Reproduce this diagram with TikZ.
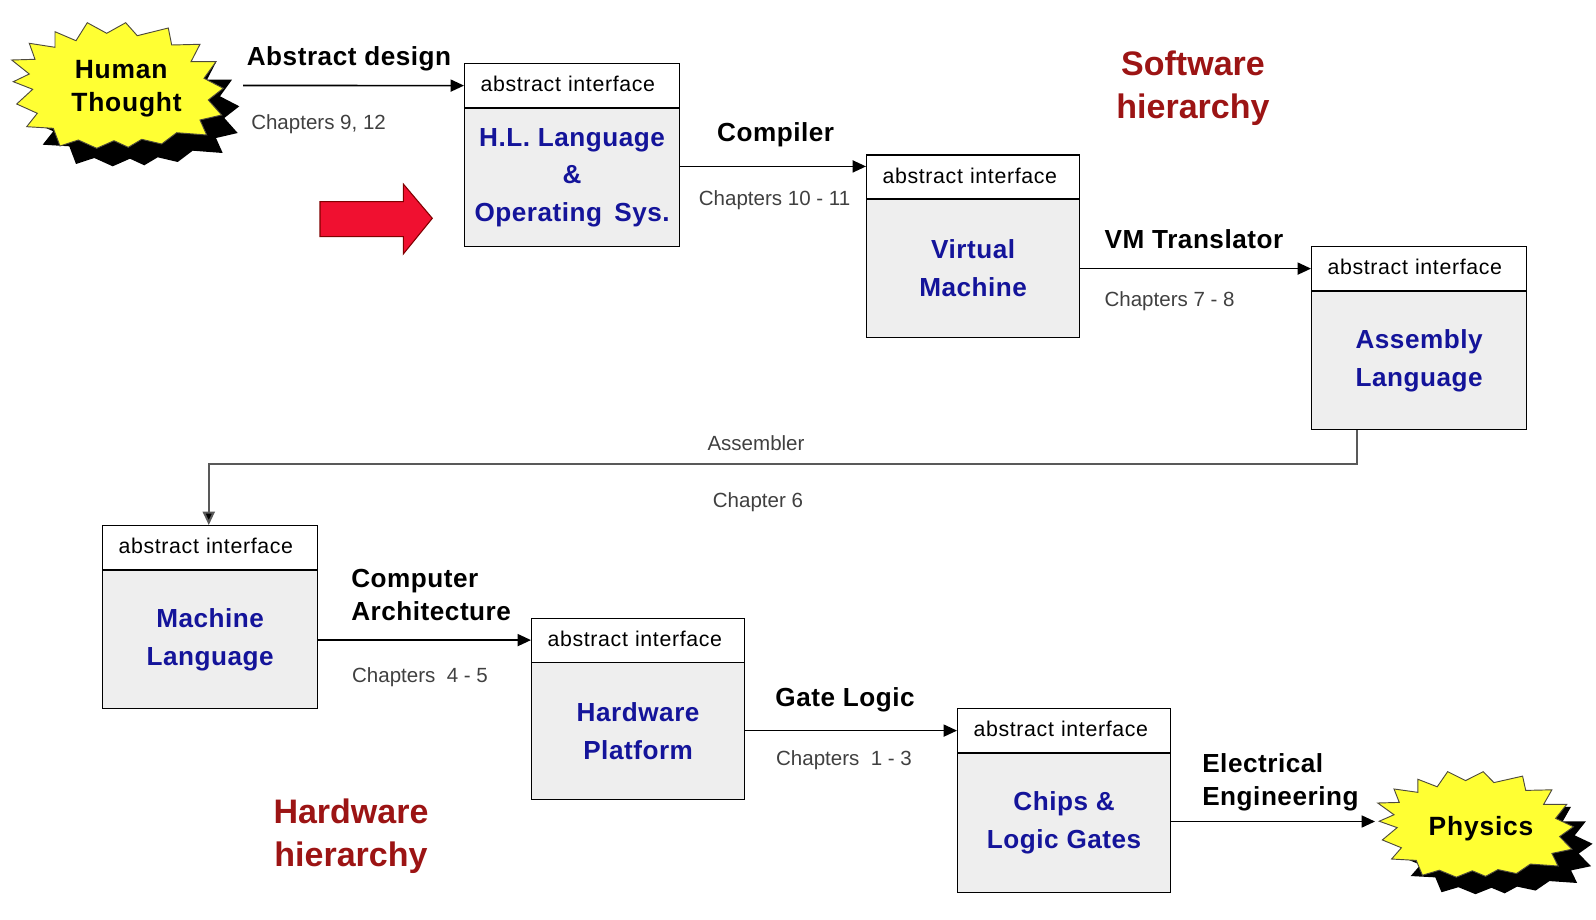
\documentclass[tikz,border=0pt]{standalone}
\usepackage{fontspec}
\setmainfont{Liberation Sans}
\usetikzlibrary{arrows.meta}
\definecolor{bodyfill}{HTML}{EEEEEE}
\definecolor{bluetxt}{HTML}{14149A}
\definecolor{redtxt}{HTML}{9C1414}
\definecolor{starfill}{HTML}{FFFF33}
\definecolor{redarrow}{HTML}{F01030}
\newcommand{\starpath}{(87.3,22.7) -- (106.7,33.3) -- (125.7,22.7) -- (137.3,35.7) -- (168.3,28) -- (171.7,45) -- (200,44.3) -- (191,61.7) -- (216,61.7) -- (204,78.3) -- (223.3,88.3) -- (208.3,100) -- (221.7,115) -- (200,120) -- (206.7,135) -- (176.7,132.7) -- (161.7,144) -- (141.7,139.3) -- (128.3,147.3) -- (114,140.7) -- (96.7,148.3) -- (78.3,140) -- (60,146) -- (53.3,128.3) -- (26.7,126.7) -- (37.3,113.3) -- (16.7,104) -- (32.7,89.3) -- (13.3,81.7) -- (29.3,74) -- (11.7,60) -- (35,59.3) -- (29.3,43.3) -- (55,47.3) -- (55,31.7) -- (76,40.7) -- cycle}
\tikzset{
  x=0.75pt,y=-0.75pt,
  every node/.style={font=\fontsize{16.5}{20}\selectfont,inner sep=0pt},
  head/.style={draw=black,line width=0.9pt,fill=white,anchor=north west,minimum width=#1*0.75pt,minimum height=33pt,
    text width=(#1-32)*0.75pt,align=left,text height=11.7pt,text depth=2.2pt,font=\fontsize{16}{20}\selectfont\addfontfeatures{LetterSpace=3}},
  body/.style={draw=black,line width=0.9pt,fill=bodyfill,anchor=north west,minimum width=#1*0.75pt,align=center,
    text=bluetxt,font=\fontsize{19.6}{28.3}\selectfont\bfseries\addfontfeatures{LetterSpace=2}},
  conn/.style={line width=1.2pt,-{Triangle[length=10pt,width=9pt]}},
  blk/.style={font=\fontsize{19.6}{24.5}\selectfont\bfseries\addfontfeatures{LetterSpace=2}},
  chap/.style={text=black!75,font=\fontsize{15.4}{20}\selectfont},
  hier/.style={text=redtxt,align=center,font=\fontsize{25.5}{32}\selectfont\bfseries},
  startxt/.style={align=center,font=\fontsize{19.8}{24.5}\selectfont\bfseries\addfontfeatures{LetterSpace=3}},
}
\begin{document}
\begin{tikzpicture}
\useasboundingbox (0,0) rectangle (1596,920);
% stars
\begin{scope}[shift={(16,18)}]
  \fill[black] \starpath;
\end{scope}
\draw[fill=starfill,draw=black!80!yellow,line width=0.7pt] \starpath;
\begin{scope}[shift={(1367+19,752.6+17)},xscale=0.925,yscale=0.84]
  \fill[black] \starpath;
\end{scope}
\begin{scope}[shift={(1366.9,752.6)},xscale=0.925,yscale=0.84]
  \draw[fill=starfill,draw=black!80!yellow,line width=0.7pt] \starpath;
\end{scope}
\node[startxt] (human) at (126.5,88.5) {\hspace*{-8pt}Human\\Thought};
\node[startxt] (physics) at (1481,828.5) {Physics};
% red arrow
\draw[fill=redarrow,draw=red!50!black,line width=0.8pt] (320,201.7) -- (403.3,201.7) -- (403.3,184) -- (432.3,218.3) -- (403.3,254) -- (403.3,236.7) -- (320,236.7) -- cycle;
% boxes
\node[head=215] (hlh) at (464,63) {abstract interface};
\node[body=215,minimum height=138*0.75pt] (hlb) at (464,108) {H.L. Language\\\&\\Operating \,Sys.};
\node[head=213] (vmh) at (866,154.5) {abstract interface};
\node[body=213,minimum height=138.5*0.75pt] (vmb) at (866,198.5) {Virtual\\Machine};
\node[head=215] (ash) at (1311,246) {abstract interface};
\node[body=215,minimum height=138*0.75pt] (asb) at (1311,291) {Assembly\\Language};
\node[head=215] (mlh) at (102,525) {abstract interface};
\node[body=215,minimum height=138*0.75pt] (mlb) at (102,570) {Machine\\Language};
\node[head=213] (hwh) at (531,617.5) {abstract interface};
\node[body=213,minimum height=136.5*0.75pt] (hwb) at (531,662) {Hardware\\Platform};
\node[head=213] (chh) at (957,708) {abstract interface};
\node[body=213,minimum height=139*0.75pt] (chb) at (957,752.5) {Chips \&\\Logic Gates};
% connectors
\coordinate (hstart) at (243,85.5);
\coordinate (pend) at (1375,821.5);
\draw[conn] (hstart) -- (hlh.west);
\draw[conn] ([yshift=8pt]hlb.east |- vmh.west) -- ([yshift=8pt]vmh.west);
\draw[conn] (vmb.east |- ash.west) -- (ash.west);
\draw[conn,draw=black!65,line width=1.5pt,-{Triangle[length=10pt,width=9pt,fill=black]}] ([xshift=-46.5pt]asb.south) -- ++(0,34) -| ([xshift=-1pt]mlh.north);
\draw[conn] (mlb.east |- hwh.west) -- (hwh.west);
\draw[conn] (hwb.east |- chh.west) -- (chh.west);
\draw[conn] (chb.east |- pend) -- (pend);
% labels
\node[blk] (l1) at (349,59) {Abstract design};
\node[chap] (c1) at (318.6,124) {Chapters 9, 12};
\node[blk] (l2) at (775.6,134.3) {Compiler};
\node[chap] (c2) at (774.6,200.5) {Chapters 10 - 11};
\node[blk] (l3) at (1194,239.5) {VM Translator};
\node[chap] (c3) at (1169.6,301) {Chapters 7 - 8};
\node[chap] (l4) at (756,443) {Assembler};
\node[chap] (c4) at (758,502) {Chapter 6};
\node[blk,align=left,anchor=west] (l5) at (351,595) {Computer\\Architecture};
\node[chap] (c5) at (420,677) {Chapters \ 4 - 5};
\node[blk] (l6) at (845,700) {Gate Logic};
\node[chap] (c6) at (844,760) {Chapters \ 1 - 3};
\node[blk,align=left,anchor=west] (l7) at (1202,782) {Electrical\\Engineering};
\node[hier] (sw) at (1193,88.5) {Software\\hierarchy};
\node[hier] (hw) at (351,836.5) {Hardware\\hierarchy};
\end{tikzpicture}
\end{document}
